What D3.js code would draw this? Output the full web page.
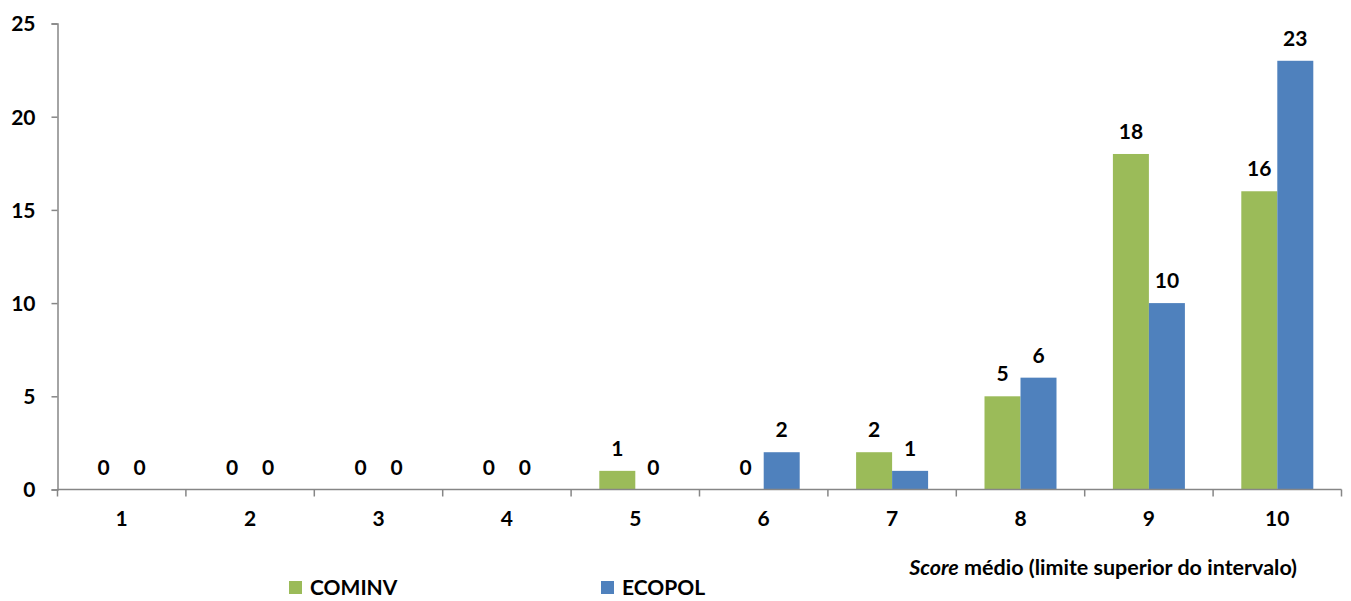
<!DOCTYPE html>
<html><head><meta charset="utf-8">
<script src="https://cdn.jsdelivr.net/npm/d3@7"></script>
<style>
body{margin:0;background:#fff;}
text{font-family:Lato,"Open Sans",sans-serif;font-weight:bold;fill:#000;}
</style></head>
<body>
<svg id="c" width="1351" height="601"></svg>
<script>
const categories = ["1","2","3","4","5","6","7","8","9","10"];
const cominv = [0,0,0,0,1,0,2,5,18,16];
const ecopol = [0,0,0,0,0,2,1,6,10,23];
const yTicks = [0,5,10,15,20,25];
const seriesNames = ["COMINV","ECOPOL"];
const colors = ["#9BBB59","#4F81BD"];

const svg = d3.select("#c");
const x0 = 57.5, x1 = 1341.5, yTop = 23.5, yBot = 489.5;
const x = d3.scaleBand().domain(categories).range([x0, x1]);
const y = d3.scaleLinear().domain([0,25]).range([yBot, yTop]);
const bw = 36;
const fs = "21px";

// bars
const series = [cominv, ecopol];
series.forEach((vals, si) => {
  svg.append("g").selectAll("rect").data(vals).join("rect")
    .attr("x", (d,i) => x(categories[i]) + x.bandwidth()/2 - (si===0 ? bw : 0))
    .attr("y", d => y(d))
    .attr("width", bw)
    .attr("height", d => yBot - y(d))
    .attr("fill", colors[si]);
  svg.append("g").selectAll("text").data(vals).join("text")
    .attr("x", (d,i) => x(categories[i]) + x.bandwidth()/2 + (si===0 ? -bw/2 : bw/2))
    .attr("y", d => y(d) - 15)
    .attr("text-anchor","middle")
    .style("font-size",fs)
    .text(d => d);
});

// y axis
const ya = svg.append("g").attr("transform",`translate(${x0},0)`)
  .call(d3.axisLeft(y).tickValues(yTicks).tickSize(6).tickPadding(16));
ya.select(".domain").attr("stroke","#868686").attr("stroke-width",1.5);
ya.selectAll(".tick line").attr("stroke","#868686").attr("stroke-width",1.5);
ya.selectAll(".tick text").style("font-size",fs).style("font-family","Lato,sans-serif").attr("dy","0.35em");

// x axis
const xa = svg.append("g").attr("transform",`translate(0,${yBot})`)
  .call(d3.axisBottom(x).tickSize(0).tickPadding(22));
xa.select(".domain").attr("stroke","#868686").attr("stroke-width",1.5).attr("d",`M${x0},0H${x1}`);
xa.selectAll(".tick text").style("font-size",fs).style("font-family","Lato,sans-serif");
// boundary ticks
const bounds = categories.map(c => x(c)).concat([x1]);
svg.append("g").selectAll("line").data(bounds).join("line")
  .attr("x1", d=>d).attr("x2", d=>d).attr("y1", yBot).attr("y2", yBot+7)
  .attr("stroke","#868686").attr("stroke-width",1.5);

// axis title
const t = svg.append("text").attr("x",1297).attr("y",575).attr("text-anchor","end").style("font-size","21.5px");
t.append("tspan").style("font-style","italic").text("Score");
t.append("tspan").text(" médio (limite superior do intervalo)");

// legend
const legX = [289, 601];
seriesNames.forEach((n,i) => {
  svg.append("rect").attr("x",legX[i]).attr("y",581).attr("width",13).attr("height",13).attr("fill",colors[i]);
  svg.append("text").attr("x",legX[i]+21).attr("y",595).style("font-size",fs).text(n);
});
</script>
</body></html>
